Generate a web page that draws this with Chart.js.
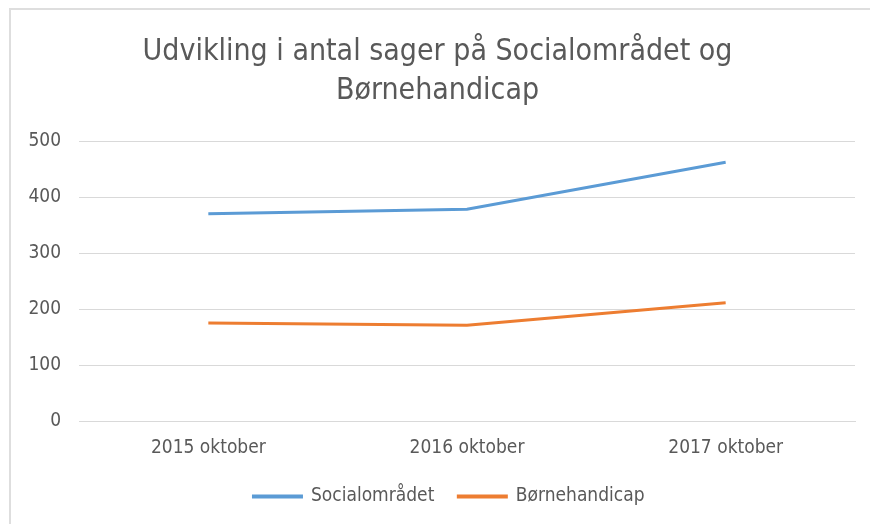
<!DOCTYPE html>
<html>
<head>
<meta charset="utf-8">
<script src="https://cdn.jsdelivr.net/npm/chart.js@4.4.0/dist/chart.umd.min.js"></script>
<style>
  html, body { margin: 0; padding: 0; background: #fff; }
  #wrap { position: relative; width: 870px; height: 524px; }
  #frame { position: absolute; left: 9px; top: 8px; right: 0; bottom: 0;
           border-left: 2px solid #dedede; border-top: 2px solid #dedede; }
  canvas { position: absolute; left: 0; top: 0; }
</style>
</head>
<body>
<div id="wrap">
  <div id="frame"></div>
  <canvas id="chart" width="870" height="524"></canvas>
</div>
<script>
var titleLines = ["Udvikling i antal sager på Socialområdet og", "Børnehandicap"];
var periods = ["2015 oktober", "2016 oktober", "2017 oktober"];
var social = [370, 378, 462];
var boern = [175, 171, 211];
var yTicks = [0, 100, 200, 300, 400, 500];

var fontFam = "'Liberation Sans Narrow', 'DejaVu Sans Condensed', sans-serif";
var legendCenter = 449;

// move the legend to where Excel put it
var shiftLegend = {
  id: 'shiftLegend',
  afterLayout: function(chart) {
    var lg = chart.legend;
    if (!lg) return;
    var half = legendCenter - 20;
    lg.left = legendCenter - half;
    lg.right = legendCenter + half;
    lg.width = lg.right - lg.left;
  }
};

var ctx = document.getElementById('chart');
var myChart = new Chart(ctx, {
  type: 'line',
  data: {
    labels: periods,
    datasets: [
      {
        label: 'Socialområdet',
        data: social,
        borderColor: '#5B9BD5',
        backgroundColor: '#5B9BD5',
        borderWidth: 3,
        pointRadius: 0,
        tension: 0
      },
      {
        label: 'Børnehandicap',
        data: boern,
        borderColor: '#ED7D31',
        backgroundColor: '#ED7D31',
        borderWidth: 3,
        pointRadius: 0,
        tension: 0
      }
    ]
  },
  options: {
    responsive: false,
    animation: false,
    layout: { padding: { left: 20, right: 15, top: 0, bottom: 8 } },
    plugins: {
      title: {
        display: true,
        text: titleLines,
        color: '#595959',
        font: { family: fontFam, size: 30, weight: 'normal', lineHeight: 1.3 },
        padding: { top: 33, bottom: 30 }
      },
      legend: {
        position: 'bottom',
        labels: {
          color: '#595959',
          font: { family: fontFam, size: 19 },
          boxWidth: 48,
          boxHeight: 1,
          padding: 24
        }
      },
      tooltip: { enabled: false }
    },
    scales: {
      x: {
        offset: true,
        grid: { display: false, drawTicks: false },
        border: { display: true, color: '#d9d9d9', width: 1 },
        ticks: { color: '#595959', font: { family: fontFam, size: 19 }, padding: 16 },
        afterFit: function(scale) { scale.height = 42; }
      },
      y: {
        min: 0,
        max: 500,
        afterBuildTicks: function(scale) {
          scale.ticks = yTicks.map(function(v) { return { value: v }; });
        },
        grid: { color: '#d9d9d9', drawTicks: false },
        border: { display: false },
        ticks: { color: '#595959', font: { family: fontFam, size: 19 }, padding: 18 },
        afterFit: function(scale) { scale.width = 59; }
      }
    }
  },
  plugins: [shiftLegend]
});
</script>
</body>
</html>
